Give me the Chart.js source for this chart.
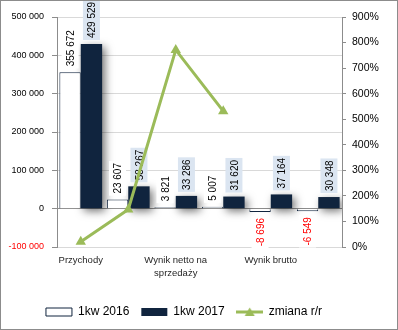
<!DOCTYPE html>
<html>
<head>
<meta charset="utf-8">
<script src="https://cdn.jsdelivr.net/npm/chart.js@4"></script>
<style>
  html, body { margin: 0; padding: 0; background: #fff; }
  #box { width: 398px; height: 330px; box-sizing: border-box; border: 1px solid #8c8c8c; background: #fff; }
</style>
</head>
<body>
<div id="box"><canvas id="wyniki" width="396" height="328"></canvas></div>
<script>
// Kategorie i dane
const categories = ['Przychody', '', ['Wynik netto na', 'sprzedaży'], '', 'Wynik brutto', ''];
const values2016 = [355672, 23607, 3821, 5007, -8696, -6549];
const values2017 = [429529, 58267, 33286, 31620, 37164, 30348];
const changeYoY = [20.8, 146.8, 771.1, 531.5, null, null]; // w %
const seriesNames = ['1kw 2016', '1kw 2017', 'zmiana r/r'];

const NAVY = '#10243e';
const GREEN = '#9bbb59';
const FONT = '"Liberation Sans", Arial, sans-serif';

// liczby z odstępem co trzy cyfry: 355 672
function fmt(n) {
  const s = String(Math.abs(Math.round(n))).replace(/\B(?=(\d{3})+(?!\d))/g, ' ');
  return n < 0 ? '-' + s : s;
}

// ikonka legendy dla linii: kreska z trójkątem
const lineIcon = document.createElement('canvas');
lineIcon.width = 27; lineIcon.height = 10;
(function () {
  const c = lineIcon.getContext('2d');
  c.strokeStyle = GREEN; c.lineWidth = 3;
  c.beginPath(); c.moveTo(0, 5); c.lineTo(27, 5); c.stroke();
  c.fillStyle = GREEN;
  c.beginPath(); c.moveTo(13.5, 0.5); c.lineTo(18.5, 9); c.lineTo(8.5, 9); c.closePath(); c.fill();
})();

// cień pod ciemnymi słupkami
const shadowPlugin = {
  id: 'barShadow',
  beforeDatasetDraw(chart, args) {
    if (args.index !== 1) return;
    const ctx = chart.ctx;
    ctx.save();
    ctx.shadowColor = 'rgba(0,0,0,0.55)';
    ctx.shadowBlur = 9;
    ctx.shadowOffsetX = 3;
    ctx.shadowOffsetY = 3;
  },
  afterDatasetDraw(chart, args) {
    if (args.index === 1) chart.ctx.restore();
  }
};

// pionowe etykiety wartości nad / pod słupkami
const valueLabels = {
  id: 'valueLabels',
  afterDatasetDraw(chart, args) {
    if (args.index > 1) return;
    const ctx = chart.ctx;
    const meta = args.meta;
    const data = chart.data.datasets[args.index].data;
    const bg = args.index === 1 ? '#dbe5f1' : '#ffffff';
    ctx.save();
    ctx.font = '10px ' + FONT;
    ctx.textBaseline = 'middle';
    meta.data.forEach((bar, i) => {
      const v = data[i];
      const txt = fmt(v);
      const w = ctx.measureText(txt).width;
      const neg = v < 0;
      const yEdge = neg ? Math.max(bar.y, bar.base) : Math.min(bar.y, bar.base);
      const off = 6;
      ctx.save();
      ctx.translate(bar.x, neg ? yEdge + off : yEdge - off);
      ctx.rotate(-Math.PI / 2);
      ctx.fillStyle = bg;
      if (neg) ctx.fillRect(-w - 2, -8.5, w + 4, 17);
      else ctx.fillRect(-2, -8.5, w + 4, 17);
      ctx.fillStyle = neg ? '#ff0000' : '#000000';
      ctx.textAlign = neg ? 'right' : 'left';
      ctx.fillText(txt, 0, 1);
      ctx.restore();
    });
    ctx.restore();
  }
};

// legenda przesunięta nieco w lewo
const legendShift = {
  id: 'legendShift',
  afterLayout(chart) {
    chart.legend.left -= 15;
    chart.legend.right -= 15;
  }
};

const ctx = document.getElementById('wyniki').getContext('2d');

new Chart(ctx, {
  type: 'bar',
  data: {
    labels: categories,
    datasets: [
      {
        label: seriesNames[0],
        data: values2016,
        backgroundColor: '#ffffff',
        borderColor: NAVY,
        borderWidth: 1,
        order: 1,
        yAxisID: 'y'
      },
      {
        label: seriesNames[1],
        data: values2017,
        backgroundColor: NAVY,
        borderWidth: 0,
        order: 1,
        yAxisID: 'y'
      },
      {
        type: 'line',
        label: seriesNames[2],
        data: changeYoY,
        borderColor: GREEN,
        backgroundColor: GREEN,
        borderWidth: 3,
        pointStyle: 'triangle',
        pointRadius: 6,
        pointBorderWidth: 0,
        spanGaps: false,
        order: 0,
        yAxisID: 'y1'
      }
    ]
  },
  options: {
    responsive: false,
    animation: false,
    events: [],
    layout: { padding: { top: 16, left: 0, right: 0, bottom: 1 } },
    datasets: {
      bar: { categoryPercentage: 0.9, barPercentage: 1.0 }
    },
    plugins: {
      tooltip: { enabled: false },
      legend: {
        position: 'bottom',
        labels: {
          usePointStyle: true,
          pointStyleWidth: 26,
          boxHeight: 8,
          padding: 12,
          color: '#000',
          font: { family: FONT, size: 12 },
          generateLabels() {
            return [
              { text: seriesNames[0], pointStyle: 'rect', fillStyle: '#fff', strokeStyle: NAVY, lineWidth: 1, datasetIndex: 0 },
              { text: seriesNames[1], pointStyle: 'rect', fillStyle: NAVY, strokeStyle: NAVY, lineWidth: 0, datasetIndex: 1 },
              { text: seriesNames[2], pointStyle: lineIcon, fillStyle: GREEN, strokeStyle: GREEN, lineWidth: 0, datasetIndex: 2 }
            ];
          }
        }
      }
    },
    scales: {
      x: {
        grid: { display: false, drawTicks: false, tickLength: 0 },
        border: { display: false },
        ticks: {
          color: '#262626',
          font: { family: FONT, size: 9.5, lineHeight: 1.45 },
          maxRotation: 0,
          autoSkip: false,
          padding: 6
        },
        afterFit(scale) { scale.height = 47; }
      },
      y: {
        position: 'left',
        min: -100000,
        max: 500000,
        ticks: {
          stepSize: 100000,
          padding: 8,
          font: { family: FONT, size: 9 },
          color: (c) => (c.tick.value < 0 ? '#ff0000' : '#000'),
          callback: (v) => fmt(v)
        },
        grid: {
          color: (c) => (c.tick.value === 0 ? '#8c8c8c' : '#d9d9d9'),
          tickColor: '#8c8c8c',
          tickLength: 5
        },
        border: { color: '#8c8c8c' },
        afterFit(scale) { scale.width = 56; }
      },
      y1: {
        position: 'right',
        min: 0,
        max: 900,
        ticks: {
          stepSize: 100,
          padding: 6,
          font: { family: FONT, size: 10.5 },
          color: '#000',
          callback: (v) => v + '%'
        },
        grid: { drawOnChartArea: false, tickColor: '#8c8c8c', tickLength: 4 },
        border: { color: '#8c8c8c' },
        afterFit(scale) { scale.width = 55; }
      }
    }
  },
  plugins: [shadowPlugin, valueLabels, legendShift]
});
</script>
</body>
</html>
